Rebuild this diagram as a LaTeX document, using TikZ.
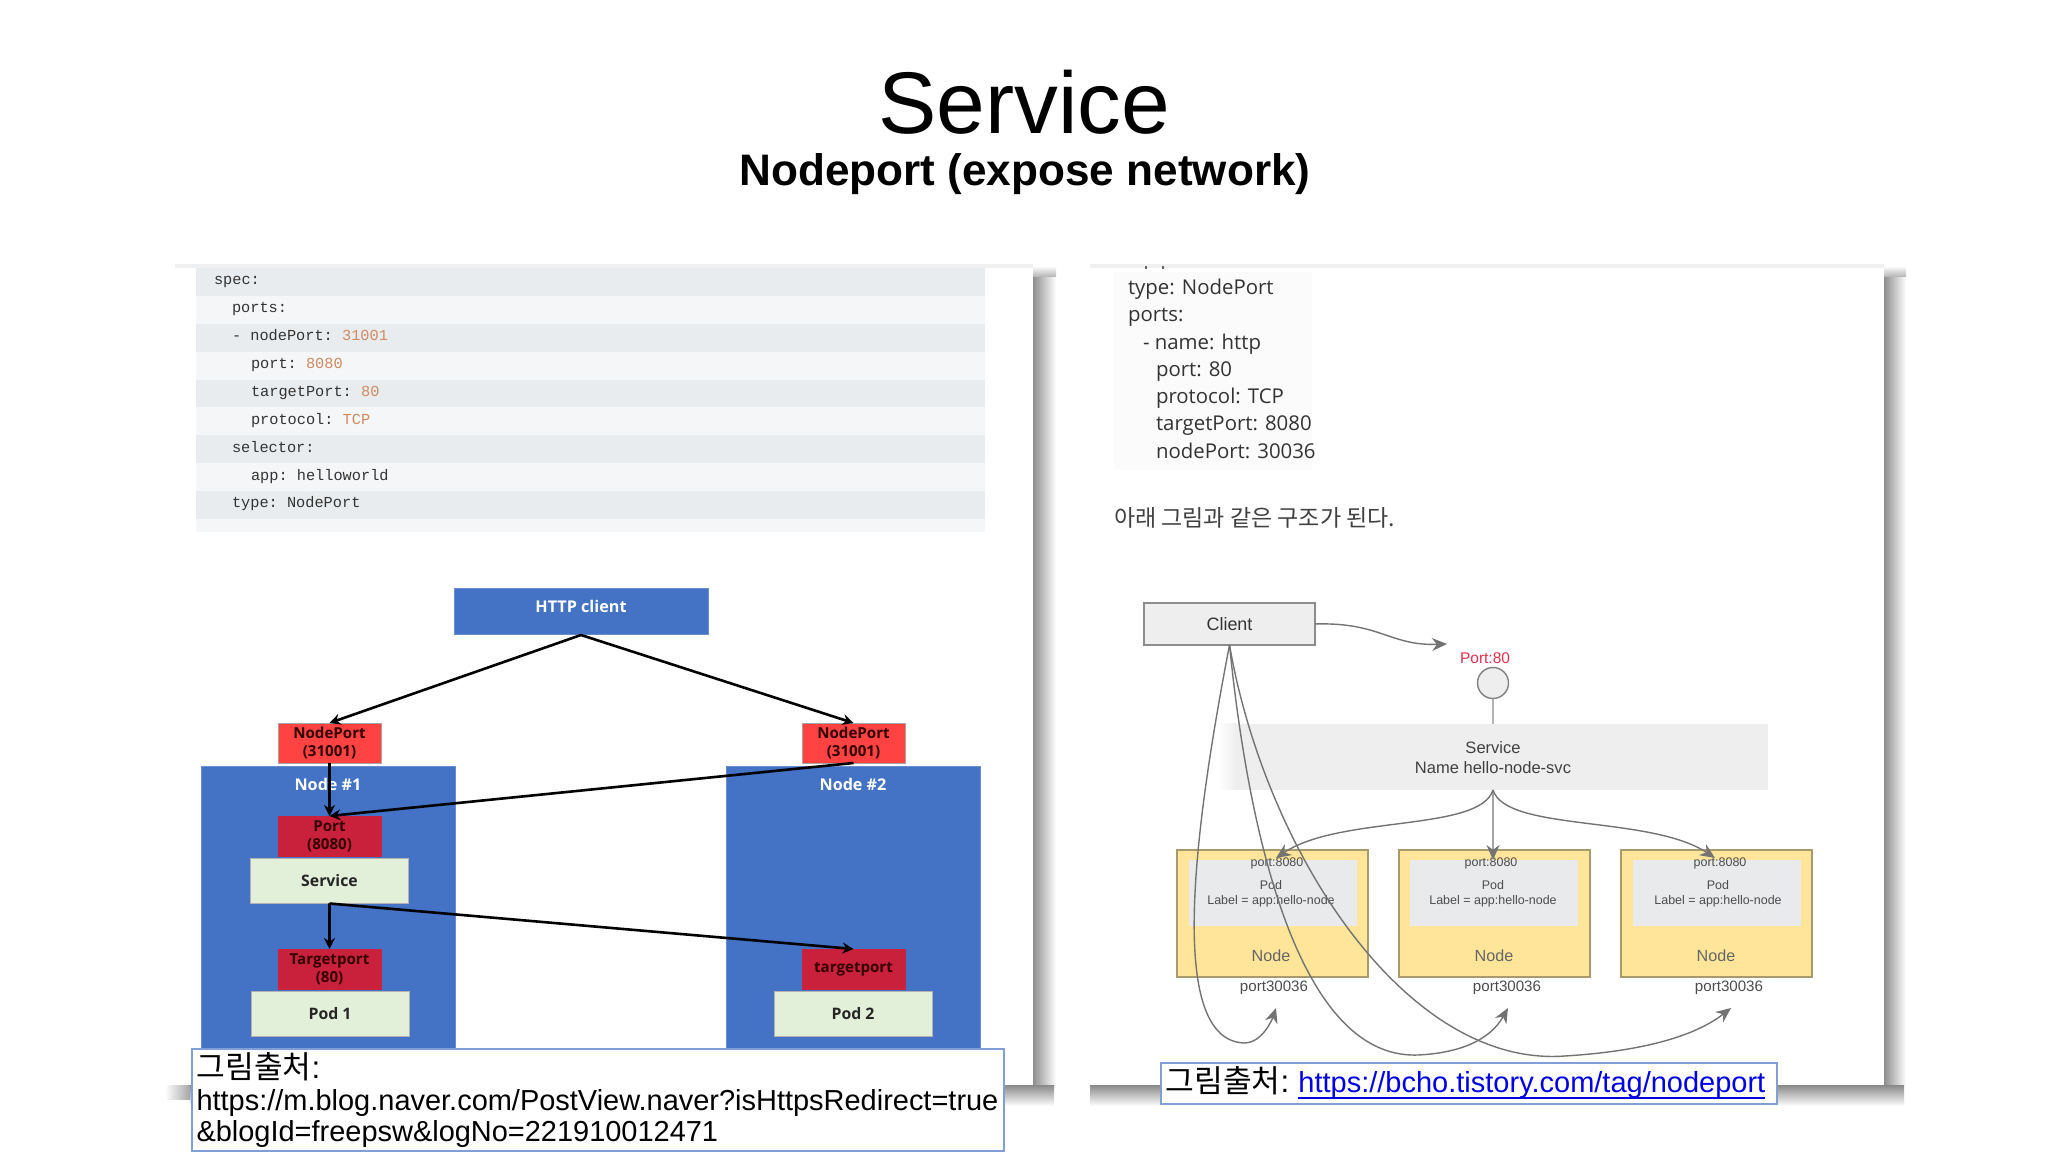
\documentclass[tikz,border=0pt]{standalone}
\usepackage{fontspec}
\setmainfont{Liberation Sans}
\setmonofont{Liberation Mono}
\newfontfamily\cjk{Noto Sans CJK KR}
\newfontfamily\uifont{Open Sans}
\usetikzlibrary{arrows.meta}
\definecolor{nodeblue}{HTML}{4472C4}
\definecolor{portred}{HTML}{FF4343}
\definecolor{portdark}{HTML}{C9203C}
\definecolor{podgreen}{HTML}{E2EFD9}
\definecolor{bandA}{HTML}{E9ECEE}
\definecolor{bandB}{HTML}{F5F6F7}
\definecolor{codenum}{HTML}{D08A62}
\definecolor{capline}{HTML}{7F9FD6}
\definecolor{nodeyellow}{HTML}{FFE599}
\definecolor{yellowline}{HTML}{A89A6A}
\definecolor{podgrey}{HTML}{E9EAEC}
\definecolor{svcgrey}{HTML}{EEEEEE}
\definecolor{shadowgrey}{HTML}{8E8E8E}
\definecolor{linkblue}{HTML}{0000E6}
\definecolor{portlabel}{HTML}{E0304A}

\begin{document}
\begin{tikzpicture}[x=0.1mm, y=-0.1mm, node distance=0 cm, outer sep=0pt]

\tikzstyle{block}=[rectangle, anchor=north west, inner sep=0pt, align=center]
\tikzstyle{bluebox}=[block, fill=nodeblue, draw=nodeblue!80!white, line width=0.1mm]
\tikzstyle{redbox}=[block, fill=portred, draw=black!35, line width=0.06mm, text=black!80!red, font=\uifont\bfseries\fontsize{4.3pt}{5.2pt}\selectfont, minimum width=10.3mm, minimum height=4mm]
\tikzstyle{crimsonbox}=[redbox, fill=portdark, draw=portdark]
\tikzstyle{greenbox}=[block, fill=podgreen, draw=black!30, line width=0.08mm, font=\uifont\bfseries\fontsize{4.5pt}{5.4pt}\selectfont, text=black!85, minimum width=15.8mm, minimum height=4.55mm]
\tikzstyle{whitelabel}=[inner sep=0pt, text=white, font=\uifont\bfseries\fontsize{4.6pt}{5.4pt}\selectfont]
\tikzstyle{flow}=[line width=0.26mm, -{Stealth[length=1.1mm,width=1.1mm]}]
\tikzstyle{codeline}=[anchor=west, inner sep=0pt, text height=1.1mm, text depth=0.35mm, text=black!80, font=\ttfamily\fontsize{4.35pt}{5pt}\selectfont]
\tikzstyle{yamlline}=[anchor=west, inner sep=0pt, text height=1.5mm, text depth=0.45mm, text=black!80, font=\uifont\fontsize{5.8pt}{7pt}\selectfont]
\tikzstyle{capbox}=[rectangle, anchor=north west, fill=white, draw=capline, line width=0.12mm, inner ysep=0pt, inner xsep=0.45mm, align=left]
\tikzstyle{yellowbox}=[block, fill=nodeyellow, draw=yellowline, line width=0.12mm, minimum width=19.1mm, minimum height=12.7mm]
\tikzstyle{podbox}=[block, fill=podgrey, minimum width=16.8mm, minimum height=6.6mm]
\tikzstyle{small}=[inner sep=0pt, text=black!70, font=\fontsize{3.55pt}{4.5pt}\selectfont]
\tikzstyle{mid}=[inner sep=0pt, text=black!70, font=\fontsize{4.3pt}{5.2pt}\selectfont]
\tikzstyle{thin}=[line width=0.14mm, draw=black!55, -{Stealth[length=1.5mm,width=1.3mm]}]
\tikzstyle{barv}=[left color=shadowgrey, middle color=black!32, right color=white]
\tikzstyle{barh}=[top color=shadowgrey, middle color=black!25, bottom color=white]

\useasboundingbox (0,0) rectangle (2048,1152);

\shade[barv] (1033,277) rectangle (1056,1086);
\shade[barh] (190,1086) rectangle (1054,1106);
\shade[left color=white, right color=black!35] (165,1086) rectangle (190,1100);
\shade[barv] (1884,277) rectangle (1906,1086);
\shade[barh] (1090,1086) rectangle (1904,1106);
\shade[top color=white, bottom color=black!30] (1033,266) rectangle (1056,277);
\shade[top color=white, bottom color=black!30] (1884,266) rectangle (1906,277);
\fill[black!6] (175,264) rectangle (1033,268);
\fill[black!6] (1090,264) rectangle (1884,268);

\node[inner sep=0pt, font=\fontsize{24.9pt}{28pt}\selectfont] (title) at (1024,102) {Service};
\node[inner sep=0pt, font=\bfseries\fontsize{12.55pt}{15pt}\selectfont] (subtitle) at (1025,174) {Nodeport (expose network)};

\foreach \i/\col in {0/bandA,1/bandB,2/bandA,3/bandB,4/bandA,5/bandB,6/bandA,7/bandB,8/bandA}
  \fill[\col] (196,268+27.9*\i) rectangle (985,268+27.9+27.9*\i);
\fill[bandB] (196,519) rectangle (985,532);

\foreach \i/\px/\txt in {0/214/spec:, 1/232/ports:, 2/232/{- nodePort: \textcolor{codenum}{31001}}, 3/251/{port: \textcolor{codenum}{8080}}, 4/251/{targetPort: \textcolor{codenum}{80}}, 5/251/{protocol: \textcolor{codenum}{TCP}}, 6/232/selector:, 7/251/app: helloworld, 8/232/type: NodePort}
  \node[codeline] at (\px,281+27.9*\i) {\txt};

\node[bluebox, minimum width=25.4mm, minimum height=4.6mm] (httpc) at (454,589) {};
\node[whitelabel] (httpl) at (581,606) {HTTP client};

\node[bluebox, minimum width=25.4mm, minimum height=29mm] (node1) at (201,767) {};
\node[bluebox, minimum width=25.4mm, minimum height=29mm] (node2) at (726,767) {};
\node[whitelabel] (node1l) at (328,784) {Node \#1};
\node[whitelabel] (node2l) at (853,784) {Node \#2};

\node[redbox] (np1) at (278,723) {NodePort\\(31001)};
\node[redbox] (np2) at (802,723) {NodePort\\(31001)};
\node[crimsonbox] (port) at (278,816) {Port\\(8080)};
\node[greenbox] (svc) at (250.5,858) {Service};
\node[crimsonbox] (tp1) at (278,949) {Targetport\\(80)};
\node[crimsonbox] (tp2) at (802,949) {targetport};
\node[greenbox] (pod1) at (251,991) {Pod 1};
\node[greenbox] (pod2) at (774,991) {Pod 2};

\draw[flow] (httpc.south) -- (np1.north);
\draw[flow] (httpc.south) -- (np2.north);
\draw[flow] (np1.south) -- (port.north);
\draw[flow] (np2.south) -- (port.north);
\draw[flow] (svc.south) -- (tp1.north);
\draw[flow] (svc.south) -- (tp2.north);

\node[capbox, text width=80.3mm, minimum height=10.2mm, font=\fontsize{8.24pt}{9.05pt}\selectfont] (cap1) at (192,1049) {{\cjk\fontsize{8.9pt}{9.05pt}\selectfont 그림출처}{\fontsize{8.9pt}{9.05pt}\selectfont :}\\https://m.blog.naver.com/PostView.naver?isHttpsRedirect=true\\\&blogId=freepsw\&logNo=221910012471};

\fill[black!1.5] (1114,272) rectangle (1312,470);
\draw[black!60, line width=0.2mm] (1146,266) -- (1146,269) (1163,266) -- (1163,269);
\foreach \i/\px/\txt in {289/1128/type: NodePort, 316/1128/ports:, 344/1143/- name: http, 371/1156/port: 80, 398/1156/protocol: TCP, 425/1156/targetPort: 8080, 453/1156/nodePort: 30036}
  \node[yamlline] at (\px,\i) {\txt};
\node[anchor=west, inner sep=0pt, text=black!75, font=\cjk\fontsize{6.55pt}{8pt}\selectfont] (note) at (1114,518) {아래 그림과 같은 구조가 된다.};

\node[block, fill=svcgrey, draw=black!45, line width=0.14mm, minimum width=17.1mm, minimum height=4.2mm, font=\fontsize{5.1pt}{6pt}\selectfont, text=black!80] (client) at (1144,603) {Client};
\coordinate (portin) at (1447,644);
\draw[thin] (client.east) .. controls (1380,622) and (1390,646) .. (portin);
\node[inner sep=0pt, text=portlabel, font=\fontsize{4.4pt}{5.2pt}\selectfont] (portl) at (1485,658) {Port:80};
\node[circle, fill=svcgrey, draw=black!50, line width=0.14mm, minimum size=3.1mm, inner sep=0pt] (hole) at (1493,683) {};
\node[block, fill=svcgrey, minimum width=55mm, minimum height=6.6mm] (service) at (1218,724) {};
\shade[left color=white, right color=svcgrey] (1218,724) rectangle (1236,790);
\node[inner sep=0pt, align=center, font=\fontsize{4.7pt}{5.7pt}\selectfont, text=black!75] (servicel) at (1493,758) {Service\\Name hello-node-svc};
\draw[line width=0.14mm, draw=black!45] (hole.south) -- (service.north);

\foreach \n/\bx/\px/\tx/\lx/\nx/\qx in {a/1177/1189/1277/1271/1271/1274, b/1399/1410/1491/1493/1494/1507, c/1621/1633/1720/1718/1716/1729} {
  \node[yellowbox] (node\n) at (\bx,850) {};
  \node[podbox] (pod\n) at (\px,860) {};
  \node[small] (pp\n) at (\tx,863) {port:8080};
  \node[small, align=center, font=\fontsize{3.55pt}{4.4pt}\selectfont] (pl\n) at (\lx,894) {Pod\\Label = app:hello-node};
  \node[mid, font=\fontsize{4.6pt}{5.5pt}\selectfont, text=black!60] (nl\n) at (\nx,956) {Node};
  \node[mid] (np\n) at (\qx,988) {port30036};
}

\coordinate (ina) at (1276,858);
\coordinate (inb) at (1493,860);
\coordinate (inc) at (1715,858);
\draw[thin] (service.south) .. controls (1480,832) and (1340,815) .. (ina);
\draw[thin] (service.south) -- (inb);
\draw[thin] (service.south) .. controls (1506,832) and (1650,815) .. (inc);

\coordinate (tipa) at (1276,1008);
\coordinate (tipb) at (1508,1008);
\coordinate (tipc) at (1731,1008);
\draw[thin] (client.south) .. controls (1190,850) and (1170,1040) .. (1244,1043) .. controls (1262,1043) and (1272,1020) .. (tipa);
\draw[thin] (client.south) .. controls (1245,800) and (1290,1060) .. (1418,1055) .. controls (1460,1053) and (1490,1040) .. (tipb);
\draw[thin] (client.south) .. controls (1265,850) and (1405,1068) .. (1565,1056) .. controls (1630,1052) and (1690,1040) .. (tipc);

\node[capbox, text width=60.7mm, minimum height=4.1mm, font=\fontsize{8.25pt}{9pt}\selectfont] (cap2) at (1161,1063) {{\cjk\fontsize{8.9pt}{9pt}\selectfont 그림출처}{\fontsize{8.9pt}{9pt}\selectfont :}\hspace{2.6pt}\textcolor{linkblue}{\underline{\smash{https://bcho.tistory.com/tag/nodeport}}}};

\end{tikzpicture}
\end{document}
